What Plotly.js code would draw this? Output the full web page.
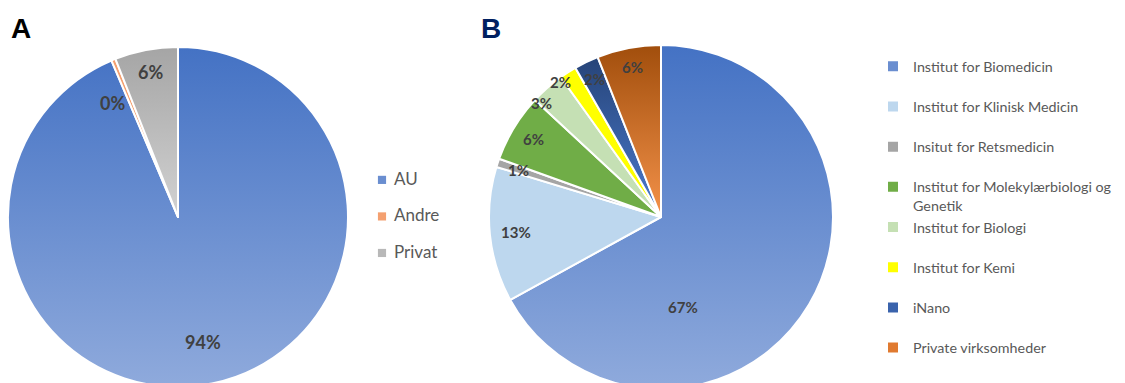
<!DOCTYPE html>
<html><head><meta charset="utf-8">
<script src="https://cdn.plot.ly/plotly-3.0.1.min.js"></script>
<style>html,body{margin:0;padding:0;overflow:hidden;background:#fff}#chart{width:1125px;height:400px}</style>
</head><body><div id="chart"></div>
<script>
// ---- data ----
const labelsA = ['AU', 'Andre', 'Privat'];
const valuesA = [93.6, 0.4, 6.0];

const labelsB = ['Institut for Biomedicin', 'Institut for Klinisk Medicin', 'Insitut for Retsmedicin',
  'Institut for Molekylærbiologi og<br>Genetik', 'Institut for Biologi', 'Institut for Kemi', 'iNano', 'Private virksomheder'];
const valuesB = [67.0, 12.7, 0.8, 6.4, 3.2, 1.6, 2.3, 6.0];

// ---- styles ----
const colorsA = ['#6A8ED0', '#F4A070', '#B8B8B8'];
const gradA = [['#4472C4', '#8FAADC'], null, ['#A5A5A5', '#D2D2D2']];
const colorsB = ['#6A8ED0', '#BDD7EE', '#A5A5A5', '#70AD47', '#C5E0B4', '#FFFF00', '#3A63AC', '#E07A30'];
const gradB = [['#4472C4', '#8FAADC'], null, null, null, null, null, ['#264478', '#4C7BCF'], ['#A14E0C', '#F4924A']];

// data-label placement (fraction of radius, angular nudge in degrees)
const labelRadiusA = [0.75, 0.77, 0.87];
const labelShiftA = [0, -7.5, 0];
const labelRadiusB = [0.54, 0.85, 0.87, 0.87, 0.96, 0.98, 0.89, 0.89];
const labelShiftB = [46, 0, 0, 0, -5, -4, 0, 0];

const W = 1125, H = 400;
function px(x) { return x / W; }
function py(y) { return 1 - y / H; }

// pie boxes in pixels (left, right, top, bottom)
const boxA = [8, 348, 47, 387];
const boxB = [489, 833, 45, 389];

// legend A: spacing from a small legend font, visible text in a larger span
function legendLabelA(l) { return '<span style="font-size:17px">' + l + '</span><br>&nbsp;'; }
function legendLabelB(l) { return l.indexOf('<br>') >= 0 ? l : l + '<br>&nbsp;'; }

function pieLabels(values, box, radii, shifts, size) {
  const total = values.reduce((a, b) => a + b, 0);
  const cx = (box[0] + box[1]) / 2, cy = (box[2] + box[3]) / 2;
  const r = Math.min(box[1] - box[0], box[3] - box[2]) / 2;
  let cum = 0;
  return values.map((v, i) => {
    const frac = v / total;
    const mid = (cum + frac / 2) * 360 + shifts[i];
    cum += frac;
    const t = mid * Math.PI / 180;
    const x = cx + radii[i] * r * Math.sin(t);
    const y = cy - radii[i] * r * Math.cos(t);
    return {
      text: Math.round(frac * 100) + '%', xref: 'paper', yref: 'paper', x: px(x), y: py(y),
      xanchor: 'center', yanchor: 'middle', showarrow: false,
      font: {family: 'Lato, sans-serif', size: size, color: '#404040', weight: 'bold'}
    };
  });
}

const data = [
  {
    type: 'pie', labels: labelsA.map(legendLabelA), values: valuesA, sort: false, direction: 'clockwise', rotation: 0,
    marker: {colors: colorsA, line: {color: '#ffffff', width: 2}},
    textinfo: 'none', hoverinfo: 'none',
    domain: {x: [px(boxA[0]), px(boxA[1])], y: [py(boxA[3]), py(boxA[2])]},
    legend: 'legend'
  },
  {
    type: 'pie', labels: labelsB.map(legendLabelB), values: valuesB, sort: false, direction: 'clockwise', rotation: 0,
    marker: {colors: colorsB, line: {color: '#ffffff', width: 2}},
    textinfo: 'none', hoverinfo: 'none',
    domain: {x: [px(boxB[0]), px(boxB[1])], y: [py(boxB[3]), py(boxB[2])]},
    legend: 'legend2'
  }
];

const layout = {
  width: W, height: H,
  margin: {l: 0, r: 0, t: 0, b: 0},
  paper_bgcolor: '#ffffff',
  showlegend: true,
  legend: {
    x: px(354), xanchor: 'left', y: py(165), yanchor: 'top', valign: 'top',
    font: {family: 'Lato, sans-serif', size: 12.9, color: '#595959'},
    bgcolor: 'rgba(0,0,0,0)'
  },
  legend2: {
    x: px(873), xanchor: 'left', y: py(50.5), yanchor: 'top', valign: 'top',
    font: {family: 'Lato, sans-serif', size: 14.3, color: '#595959'},
    bgcolor: 'rgba(0,0,0,0)'
  },
  annotations: [
    {text: 'A', xref: 'paper', yref: 'paper', x: px(9), y: py(28), xanchor: 'left', yanchor: 'middle',
     showarrow: false, font: {family: 'Liberation Sans, Arial, sans-serif', size: 28, color: '#000000', weight: 'bold'}},
    {text: 'B', xref: 'paper', yref: 'paper', x: px(479), y: py(28), xanchor: 'left', yanchor: 'middle',
     showarrow: false, font: {family: 'Liberation Sans, Arial, sans-serif', size: 28, color: '#002060', weight: 'bold'}}
  ].concat(pieLabels(valuesA, boxA, labelRadiusA, labelShiftA, 18))
   .concat(pieLabels(valuesB, boxB, labelRadiusB, labelShiftB, 15))
};

Plotly.newPlot('chart', data, layout, {staticPlot: true, displayModeBar: false}).then(gd => {
  const NS = 'http://www.w3.org/2000/svg';
  const svg = gd.querySelector('svg.main-svg');
  let defs = svg.querySelector('defs');
  if (!defs) { defs = document.createElementNS(NS, 'defs'); svg.insertBefore(defs, svg.firstChild); }
  function makeGrad(id, c1, c2) {
    const g = document.createElementNS(NS, 'linearGradient');
    g.setAttribute('id', id);
    g.setAttribute('x1', '0'); g.setAttribute('y1', '0'); g.setAttribute('x2', '0'); g.setAttribute('y2', '1');
    [[0, c1], [1, c2]].forEach(([o, c]) => {
      const s = document.createElementNS(NS, 'stop');
      s.setAttribute('offset', o); s.setAttribute('stop-color', c);
      g.appendChild(s);
    });
    defs.appendChild(g);
  }
  const grads = [gradA, gradB];
  gd.querySelectorAll('.pielayer .trace').forEach((tr, ti) => {
    tr.querySelectorAll('g.slice').forEach((sl, i) => {
      const gspec = grads[ti] && grads[ti][i];
      if (!gspec) return;
      const id = 'grad_' + ti + '_' + i;
      makeGrad(id, gspec[0], gspec[1]);
      const p = sl.querySelector('path.surface');
      if (p) p.style.fill = 'url(#' + id + ')';
    });
  });
  // smaller legend swatches, closer to their text
  gd.querySelectorAll('.legend .legendpoints path').forEach(p => {
    const t = p.getAttribute('transform') || '';
    p.setAttribute('transform', t + ' translate(8,0) scale(0.68)');
    p.style.strokeWidth = '0';
  });
});
</script>
</body></html>
